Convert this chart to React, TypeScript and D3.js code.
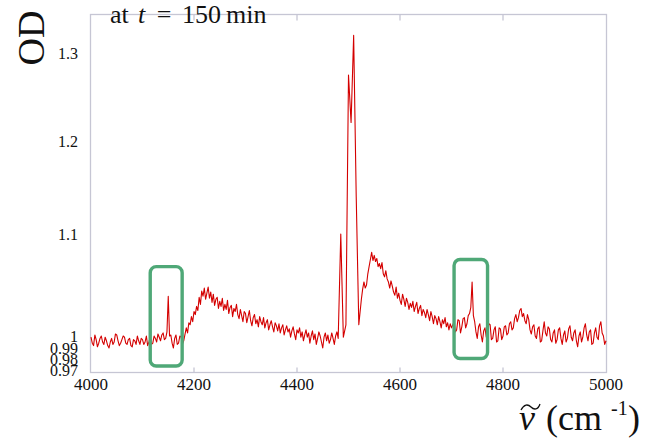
import React from "react";
import * as d3 from "d3";

// ---- data ----
const xTicks = [4000, 4200, 4400, 4600, 4800, 5000];
const yTicks = [0.97, 0.98, 0.99, 1, 1.1, 1.2, 1.3];
const yTickLabels = ["0.97", "0.98", "0.99", "1", "1.1", "1.2", "1.3"];

const startBaseline = 4000;
const stepBaseline = 2.5;
const odBaseline = [
  0.999, 0.994, 0.992, 1.001, 0.997, 0.991, 0.994, 0.998, 1.0, 0.995,
  0.993, 0.999, 0.996, 0.992, 0.99, 0.995, 0.998, 0.993, 0.995, 1.002,
  1.001, 0.996, 0.992, 0.994, 0.997, 1.0, 0.999, 0.994, 0.993, 0.997,
  0.998, 0.992, 0.991, 0.997, 0.996, 0.993, 1.0, 0.996, 0.993, 0.998,
  0.997, 0.993, 0.995, 1.0, 0.992, 0.995, 0.999, 0.993, 0.994, 1.0,
  0.998, 0.995, 1.002, 0.999, 0.996, 1.001, 1.003, 0.997, 0.998, 1.004,
  1.039, 1.0, 1.001, 0.994, 0.99, 0.998, 1.001, 0.993, 0.994, 1.0,
  0.999, 0.993, 0.996,
];
const startFirstBand = 4185;
const stepFirstBand = 2.5;
const odFirstBand = [
  1.008, 1.003, 1.013, 1.011, 1.019, 1.014, 1.024, 1.021, 1.029, 1.025,
  1.038, 1.031, 1.044, 1.039, 1.047, 1.036, 1.042, 1.048, 1.037, 1.043,
  1.033, 1.041, 1.03, 1.036, 1.038, 1.027, 1.034, 1.029, 1.037, 1.025,
  1.031, 1.026, 1.035, 1.022, 1.028, 1.03, 1.019, 1.027, 1.024, 1.031,
  1.021, 1.017, 1.026, 1.02, 1.014, 1.024, 1.022, 1.013, 1.019, 1.025,
  1.015, 1.01, 1.018, 1.021, 1.012, 1.016, 1.009, 1.019, 1.014, 1.011,
  1.018, 1.008, 1.013, 1.016, 1.006, 1.011, 1.015, 1.009, 1.004, 1.013,
  1.01, 1.005, 1.012, 1.003, 1.008, 1.011, 1.001, 1.006, 1.01, 1.004,
  1.007, 0.999, 1.005, 1.009, 1.002, 0.997, 1.006, 1.003, 1.008, 0.999,
  1.004, 0.996, 1.001, 1.006, 0.999, 1.003, 0.994, 1.0, 1.005, 0.997,
  1.002, 0.993, 0.998, 1.004, 1.0, 0.995, 0.99, 0.999, 1.003, 0.996,
  1.001, 0.994, 0.997, 1.003, 0.998, 0.993, 1.0, 1.004, 0.998,
];
const startMainPeak = 4485;
const stepMainPeak = 5;
const odMainPeak = [1.1, 0.999, 1.011, 1.275, 1.221, 1.32, 1.14, 1.011];
const startSecondBand = 4525;
const stepSecondBand = 2.5;
const odSecondBand = [
  1.036, 1.046, 1.053, 1.047, 1.05, 1.061, 1.068, 1.075, 1.082, 1.074,
  1.079, 1.073, 1.076, 1.068, 1.071, 1.066, 1.072, 1.061, 1.058, 1.064,
  1.056, 1.053, 1.047, 1.054, 1.049, 1.043, 1.04, 1.048, 1.037, 1.042,
  1.035, 1.031, 1.041, 1.036, 1.029, 1.037, 1.033, 1.026, 1.032, 1.028,
  1.034, 1.024, 1.029, 1.033, 1.022, 1.027, 1.03, 1.02, 1.026, 1.023,
  1.018, 1.026, 1.021, 1.015, 1.024, 1.019, 1.012, 1.02, 1.017, 1.011,
  1.019, 1.014, 1.008, 1.016, 1.012, 1.018, 1.009, 1.013, 1.006, 1.012,
  1.008,
];
const startTail = 4705;
const stepTail = 2.5;
const odTail = [
  1.014, 1.004, 1.006, 1.016, 1.015, 1.003, 1.009, 1.017, 1.018, 1.008, 1.012, 1.02, 1.022, 1.028, 1.053, 1.02, 1.014, 1.004, 0.998, 1.009,
  1.012, 1.001, 0.995, 1.005, 1.008, 0.999, 1.002, 1.012, 1.011, 0.997, 0.998, 1.006, 1.009, 0.995, 0.996, 1.008, 1.007, 0.997, 1.0, 1.009,
  1.01, 1.001, 1.003, 1.012, 1.014, 1.006, 1.008, 1.017, 1.021, 1.014, 1.018, 1.025, 1.027, 1.019, 1.022, 1.015, 1.012, 1.021, 1.016, 1.006,
  1.002, 1.009, 1.011, 1.0, 0.998, 1.007, 1.009, 0.995, 0.996, 1.005, 1.014, 1.003, 1.0, 1.009, 1.007, 0.997, 0.995, 1.003, 1.006, 0.994,
  0.997, 1.006, 1.008, 0.998, 0.993, 1.001, 1.005, 0.995, 0.998, 1.007, 1.01, 0.999, 0.996, 1.003, 1.006, 0.996, 0.991, 1.0, 1.004, 0.995,
  0.999, 1.008, 1.012, 1.001, 0.996, 1.004, 1.006, 0.993, 0.994, 1.003, 1.008, 0.999, 0.997, 1.01, 1.014, 1.003, 1.0, 0.993, 0.996,
];

// highlight boxes: [wavenumber from, wavenumber to, OD low, OD high]
const boxRanges = [
  [4115, 4177, 0.9736, 1.068],
  [4705, 4770, 0.9805, 1.075],
];

const segments: [number, number, number[]][] = [
  [startBaseline, stepBaseline, odBaseline],
  [startFirstBand, stepFirstBand, odFirstBand],
  [startMainPeak, stepMainPeak, odMainPeak],
  [startSecondBand, stepSecondBand, odSecondBand],
  [startTail, stepTail, odTail],
];

const SERIF = "'Liberation Serif', 'Times New Roman', Times, 'DejaVu Serif', serif";

export default function App() {
  const W = 658;
  const H = 442;
  const left = 90.5;
  const right = 606.5;
  const top = 14.5;
  const bottom = 372.5;

  const x = d3.scaleLinear().domain([4000, 5000]).range([91, 606]);
  const y = d3
    .scaleLinear()
    .domain([0.97, 0.98, 0.99, 1.0, 1.1, 1.2, 1.3])
    .range([370, 359, 348, 336, 234, 141, 53]);

  const pts: [number, number][] = [];
  segments.forEach(([s, st, vals]) => {
    vals.forEach((v, i) => pts.push([s + i * st, v]));
  });
  const line = d3
    .line<[number, number]>()
    .x((d) => x(d[0]))
    .y((d) => y(d[1]));

  const frame = "#c6c6d4";
  const ts = { fontFamily: SERIF };

  return (
    <svg
      width={W}
      height={H}
      style={{ position: "absolute", left: 0, top: 0, background: "#fff" }}
    >
      <rect x={0} y={0} width={W} height={H} fill="#fff" />
      <rect
        x={left}
        y={top}
        width={right - left}
        height={bottom - top}
        fill="none"
        stroke={frame}
        strokeWidth={1.3}
      />
      {xTicks.slice(1, -1).map((t) => (
        <g key={t}>
          <line x1={x(t)} x2={x(t)} y1={bottom} y2={bottom - 5} stroke={frame} strokeWidth={1.3} />
          <line x1={x(t)} x2={x(t)} y1={top} y2={top + 6} stroke={frame} strokeWidth={1.3} />
        </g>
      ))}
      {xTicks.map((t) => (
        <text key={t} x={x(t)} y={390} textAnchor="middle" fontSize={17} fill="#111" style={ts}>
          {t}
        </text>
      ))}
      {yTicks.map((t, i) => (
        <text
          key={t}
          x={78}
          y={y(t)}
          textAnchor="end"
          dominantBaseline="central"
          fontSize={16}
          fill="#111"
          style={ts}
        >
          {yTickLabels[i]}
        </text>
      ))}
      <path d={line(pts) || ""} fill="none" stroke="#d40000" strokeWidth={1.1} strokeLinejoin="round" />
      {boxRanges.map((b, i) => (
        <rect
          key={i}
          x={x(b[0])}
          y={y(b[3])}
          width={x(b[1]) - x(b[0])}
          height={y(b[2]) - y(b[3])}
          rx={6}
          fill="none"
          stroke="#4fa877"
          strokeWidth={3.4}
        />
      ))}
      <g fill="#111" fontSize={26} style={ts}>
        <text x={110} y={23}>at</text>
        <text x={138} y={23} fontStyle="italic">t</text>
        <text x={164} y={23} textAnchor="middle">=</text>
        <text x={182} y={23}>150</text>
        <text x={226} y={23}>min</text>
      </g>
      <text
        transform="translate(44,38) rotate(-90)"
        textAnchor="middle"
        fontSize={38}
        fill="#111"
        style={ts}
      >
        OD
      </text>
      <g fill="#111" style={ts}>
        <text x={519} y={430} fontSize={36} fontStyle="italic">
          ν
        </text>
        <path
          d="M521,410 C524,404 528,404 531,407 C534,410 538,410 540,404"
          fill="none"
          stroke="#111"
          strokeWidth={1.3}
        />
        <text x={546} y={430} fontSize={36}>
          (cm
        </text>
        <text x={611} y={415} fontSize={20}>
          -1
        </text>
        <text x={628} y={430} fontSize={36}>
          )
        </text>
      </g>
    </svg>
  );
}
